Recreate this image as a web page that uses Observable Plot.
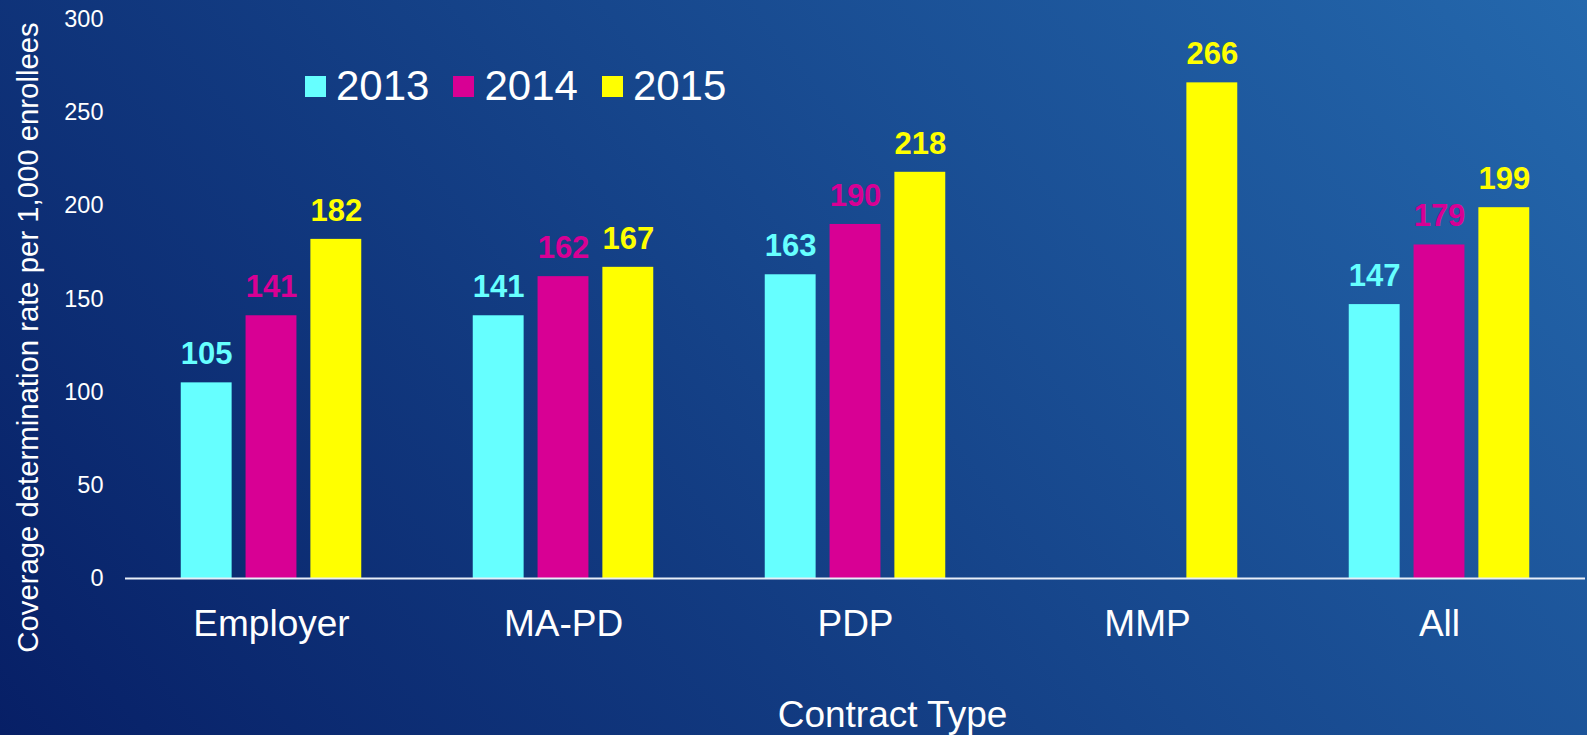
<!DOCTYPE html>
<html>
<head>
<meta charset="utf-8">
<script src="https://cdn.jsdelivr.net/npm/d3@7"></script>
<script src="https://cdn.jsdelivr.net/npm/@observablehq/plot@0.6"></script>
<style>
  html, body { margin: 0; padding: 0; }
  #chart {
    position: relative; width: 1587px; height: 735px; overflow: hidden;
    background: linear-gradient(51deg, #071f66, #2468ad);
    font-family: "Liberation Sans", Arial, sans-serif;
  }
  #legend {
    position: absolute; left: 305px; top: 65px;
    display: flex; align-items: center; color: #fff;
  }
  #legend .sw { width: 21px; height: 21px; margin-right: 10px; }
  #legend .lb { font-size: 42px; line-height: 1; margin-right: 24px; }
</style>
</head>
<body>
<div id="chart"><div id="legend"></div></div>
<script>
const categories = ["Employer", "MA-PD", "PDP", "MMP", "All"];
const years = ["2013", "2014", "2015"];
const values2013 = [105, 141, 163, null, 147];
const values2014 = [141, 162, 190, null, 179];
const values2015 = [182, 167, 218, 266, 199];
const yearColors = ["#66ffff", "#d80094", "#ffff00"];
const yTicks = [0, 50, 100, 150, 200, 250, 300];
const yTitle = "Coverage determination rate per 1,000 enrollees";
const xTitle = "Contract Type";

const series = [values2013, values2014, values2015];
const data = [];
categories.forEach((c, i) => {
  years.forEach((y, j) => {
    const v = series[j][i];
    if (v != null) data.push({category: c, year: y, value: v});
  });
});

const font = '"Liberation Sans", Arial, sans-serif';

const chart = Plot.plot({
  width: 1587,
  height: 735,
  marginLeft: 123,
  marginRight: 0,
  marginTop: 19,
  marginBottom: 157,
  style: {background: "transparent", color: "#ffffff", fontFamily: font, overflow: "visible"},
  fx: {domain: categories, padding: 0, label: null, axis: null},
  x: {domain: years, paddingInner: 0.215, paddingOuter: 0.86, axis: null, round: false},
  y: {domain: [0, 300], axis: null},
  color: {domain: years, range: yearColors},
  marks: [
    Plot.barY(data, {fx: "category", x: "year", y: "value", fill: "year"}),
    Plot.ruleY([0], {stroke: "#e8eef8", strokeWidth: 2}),
    Plot.text(data, {fx: "category", x: "year", y: "value", text: d => String(d.value), fill: "year",
      fontWeight: "bold", fontSize: 31, lineAnchor: "bottom", dy: -18.5, textAnchor: "middle"}),
    Plot.axisY({ticks: yTicks, tickSize: 0, tickPadding: 22, fontSize: 23.5, label: null}),
    Plot.axisFx({anchor: "bottom", tickSize: 0, tickPadding: 31, fontSize: 37, label: null}),
    Plot.text([yTitle], {fx: () => categories[0], frameAnchor: "left", text: d => d, rotate: -90,
      fontSize: 29.3, fill: "#ffffff", dx: -97, dy: 38.5, textAnchor: "middle"}),
    Plot.text([xTitle], {fx: () => categories[2], frameAnchor: "bottom", text: d => d,
      fontSize: 37, fill: "#ffffff", dx: 37, dy: 148, lineAnchor: "bottom", textAnchor: "middle"})
  ]
});

document.getElementById("chart").prepend(chart);

const legend = document.getElementById("legend");
years.forEach((y, i) => {
  const sw = document.createElement("div");
  sw.className = "sw";
  sw.style.background = yearColors[i];
  const lb = document.createElement("div");
  lb.className = "lb";
  lb.textContent = y;
  legend.append(sw, lb);
});
</script>
</body>
</html>
